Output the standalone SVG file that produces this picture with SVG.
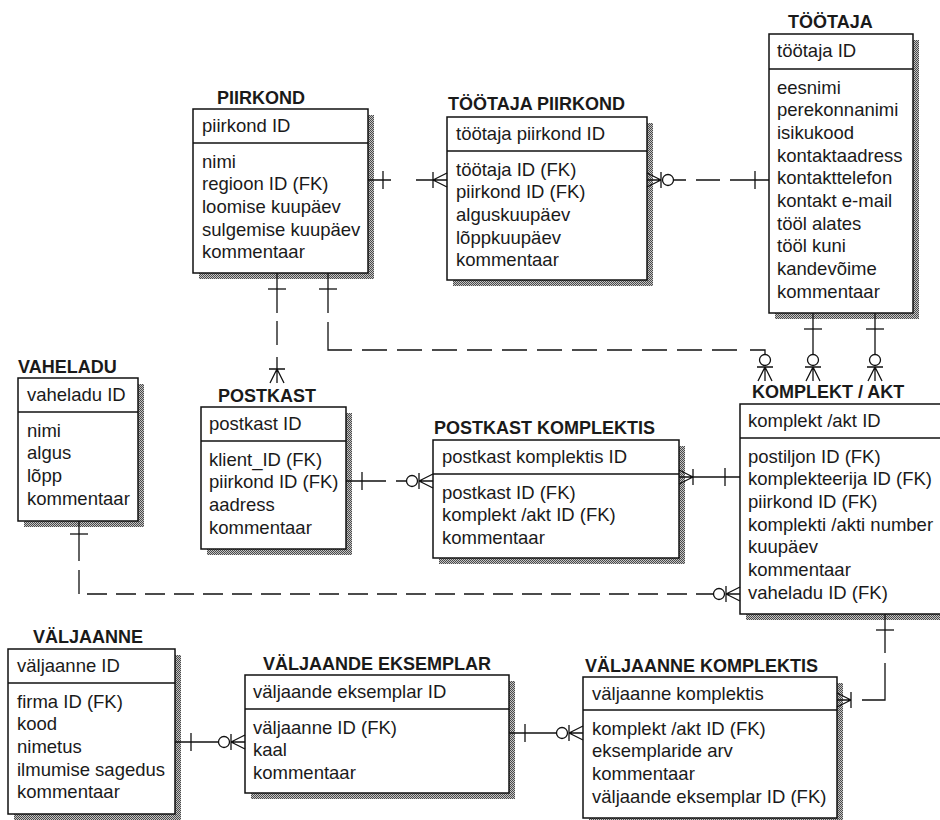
<svg xmlns="http://www.w3.org/2000/svg" width="940" height="820" viewBox="0 0 940 820">
  <style>
    .title { font-family: "Liberation Sans", Arial, sans-serif; font-size: 18px; font-weight: bold; fill: #1a1a1a; }
    .attr { font-family: "Liberation Sans", Arial, sans-serif; font-size: 18.5px; fill: #1a1a1a; }
    .box { fill: #ffffff; stroke: #111; stroke-width: 1.5; }
    .shadow { fill: url(#dots); stroke: none; }
    .sep { stroke: #111; stroke-width: 1.5; }
    .rel { fill: none; stroke: #111; stroke-width: 1.3; }
    .dash { stroke-dasharray: 25 10; }
    .dash2 { stroke-dasharray: 20 9; }
  </style>
  <defs>
    <pattern id="dots" width="2" height="2" patternUnits="userSpaceOnUse">
      <rect width="2" height="2" fill="#c4c4c4"/>
      <rect width="1" height="1" fill="#4a4a4a"/>
      <rect x="1" y="1" width="1" height="1" fill="#4a4a4a"/>
    </pattern>
    <!-- single bar: "exactly one" -->
    <path id="one" class="rel" d="M0,-9 V9"/>
    <!-- bar + crow's foot, tips toward +x -->
    <g id="many" class="rel">
      <path d="M0,-8 V8 M0,0 L14,-7 M0,0 L14,0 M0,0 L14,7"/>
    </g>
    <!-- circle + bar + crow's foot, tips toward +x -->
    <g id="zmany" class="rel">
      <path d="M0,-8 V8 M0,0 L14,-7 M0,0 L14,0 M0,0 L14,7"/>
      <circle cx="-7" cy="0" r="5.5" fill="#fff"/>
    </g>
  </defs>

  <rect width="940" height="820" fill="#ffffff"/>

  <!-- entities -->
  <g id="piirkond">
    <text class="title" x="217" y="104">PIIRKOND</text>
    <rect class="shadow" x="199" y="115" width="175" height="164"/>
    <rect class="box" x="193" y="109" width="175" height="164"/>
    <line class="sep" x1="193" y1="143" x2="368" y2="143"/>
    <text class="attr" x="202" y="132">piirkond ID</text>
    <text class="attr" x="202" y="167.5">nimi</text>
    <text class="attr" x="202" y="190.2">regioon ID (FK)</text>
    <text class="attr" x="202" y="212.9">loomise kuupäev</text>
    <text class="attr" x="202" y="235.6">sulgemise kuupäev</text>
    <text class="attr" x="202" y="258.3">kommentaar</text>
  </g>

  <g id="tootaja-piirkond">
    <text class="title" x="448" y="110">TÖÖTAJA PIIRKOND</text>
    <rect class="shadow" x="453" y="123" width="200" height="163"/>
    <rect class="box" x="447" y="117" width="200" height="163"/>
    <line class="sep" x1="447" y1="151" x2="647" y2="151"/>
    <text class="attr" x="456" y="140">töötaja piirkond ID</text>
    <text class="attr" x="456" y="175.5">töötaja ID (FK)</text>
    <text class="attr" x="456" y="198.2">piirkond ID (FK)</text>
    <text class="attr" x="456" y="220.9">alguskuupäev</text>
    <text class="attr" x="456" y="243.6">lõppkuupäev</text>
    <text class="attr" x="456" y="266.3">kommentaar</text>
  </g>

  <g id="tootaja">
    <text class="title" x="788" y="28">TÖÖTAJA</text>
    <rect class="shadow" x="775" y="40" width="144" height="279"/>
    <rect class="box" x="769" y="34" width="144" height="279"/>
    <line class="sep" x1="769" y1="69" x2="913" y2="69"/>
    <text class="attr" x="777" y="57">töötaja ID</text>
    <text class="attr" x="777" y="93.5">eesnimi</text>
    <text class="attr" x="777" y="116.2">perekonnanimi</text>
    <text class="attr" x="777" y="138.9">isikukood</text>
    <text class="attr" x="777" y="161.6">kontaktaadress</text>
    <text class="attr" x="777" y="184.3">kontakttelefon</text>
    <text class="attr" x="777" y="207">kontakt e-mail</text>
    <text class="attr" x="777" y="229.7">tööl alates</text>
    <text class="attr" x="777" y="252.4">tööl kuni</text>
    <text class="attr" x="777" y="275.1">kandevõime</text>
    <text class="attr" x="777" y="297.8">kommentaar</text>
  </g>

  <g id="vaheladu">
    <text class="title" x="18" y="373">VAHELADU</text>
    <rect class="shadow" x="24" y="384" width="120" height="143"/>
    <rect class="box" x="18" y="378" width="120" height="143"/>
    <line class="sep" x1="18" y1="412" x2="138" y2="412"/>
    <text class="attr" x="27" y="401">vaheladu ID</text>
    <text class="attr" x="27" y="436.5">nimi</text>
    <text class="attr" x="27" y="459.2">algus</text>
    <text class="attr" x="27" y="481.9">lõpp</text>
    <text class="attr" x="27" y="504.6">kommentaar</text>
  </g>

  <g id="postkast">
    <text class="title" x="218" y="402">POSTKAST</text>
    <rect class="shadow" x="207" y="413" width="145" height="142"/>
    <rect class="box" x="201" y="407" width="145" height="142"/>
    <line class="sep" x1="201" y1="441" x2="346" y2="441"/>
    <text class="attr" x="209" y="430">postkast ID</text>
    <text class="attr" x="209" y="465.5">klient_ID (FK)</text>
    <text class="attr" x="209" y="488.2">piirkond ID (FK)</text>
    <text class="attr" x="209" y="510.9">aadress</text>
    <text class="attr" x="209" y="533.6">kommentaar</text>
  </g>

  <g id="postkast-komplektis">
    <text class="title" x="434" y="434">POSTKAST KOMPLEKTIS</text>
    <rect class="shadow" x="439" y="446" width="246" height="118"/>
    <rect class="box" x="433" y="440" width="246" height="118"/>
    <line class="sep" x1="433" y1="474" x2="679" y2="474"/>
    <text class="attr" x="442" y="463">postkast komplektis ID</text>
    <text class="attr" x="442" y="498.5">postkast ID (FK)</text>
    <text class="attr" x="442" y="521.2">komplekt /akt ID (FK)</text>
    <text class="attr" x="442" y="543.9">kommentaar</text>
  </g>

  <g id="komplekt-akt">
    <text class="title" x="752" y="398">KOMPLEKT / AKT</text>
    <rect class="shadow" x="746" y="410" width="210" height="210"/>
    <rect class="box" x="740" y="404" width="210" height="210"/>
    <line class="sep" x1="740" y1="438" x2="950" y2="438"/>
    <text class="attr" x="748" y="427">komplekt /akt ID</text>
    <text class="attr" x="748" y="462.5">postiljon ID (FK)</text>
    <text class="attr" x="748" y="485.2">komplekteerija ID (FK)</text>
    <text class="attr" x="748" y="507.9">piirkond ID (FK)</text>
    <text class="attr" x="748" y="530.6">komplekti /akti number</text>
    <text class="attr" x="748" y="553.3">kuupäev</text>
    <text class="attr" x="748" y="576">kommentaar</text>
    <text class="attr" x="748" y="598.7">vaheladu ID (FK)</text>
  </g>

  <g id="valjaanne">
    <text class="title" x="33" y="643">VÄLJAANNE</text>
    <rect class="shadow" x="14" y="655" width="167" height="165"/>
    <rect class="box" x="8" y="649" width="167" height="165"/>
    <line class="sep" x1="8" y1="683" x2="175" y2="683"/>
    <text class="attr" x="17" y="672">väljaanne ID</text>
    <text class="attr" x="17" y="707.5">firma ID (FK)</text>
    <text class="attr" x="17" y="730.2">kood</text>
    <text class="attr" x="17" y="752.9">nimetus</text>
    <text class="attr" x="17" y="775.6">ilmumise sagedus</text>
    <text class="attr" x="17" y="798.3">kommentaar</text>
  </g>

  <g id="valjaande-eksemplar">
    <text class="title" x="263" y="670">VÄLJAANDE EKSEMPLAR</text>
    <rect class="shadow" x="251" y="681" width="264" height="118"/>
    <rect class="box" x="245" y="675" width="264" height="118"/>
    <line class="sep" x1="245" y1="709" x2="509" y2="709"/>
    <text class="attr" x="253" y="698">väljaande eksemplar ID</text>
    <text class="attr" x="253" y="733.5">väljaanne ID (FK)</text>
    <text class="attr" x="253" y="756.2">kaal</text>
    <text class="attr" x="253" y="778.9">kommentaar</text>
  </g>

  <g id="valjaanne-komplektis">
    <text class="title" x="585" y="672">VÄLJAANNE KOMPLEKTIS</text>
    <rect class="shadow" x="589" y="683" width="254" height="141"/>
    <rect class="box" x="583" y="677" width="254" height="141"/>
    <line class="sep" x1="583" y1="710" x2="837" y2="710"/>
    <text class="attr" x="592" y="700">väljaanne komplektis</text>
    <text class="attr" x="592" y="734.5">komplekt /akt ID (FK)</text>
    <text class="attr" x="592" y="757.2">eksemplaride arv</text>
    <text class="attr" x="592" y="779.9">kommentaar</text>
    <text class="attr" x="592" y="802.6">väljaande eksemplar ID (FK)</text>
  </g>

  <!-- relationships -->
  <g id="connectors">
    <!-- PIIRKOND - TÖÖTAJA PIIRKOND -->
    <path class="rel" d="M368,180 H391 M416,180 H433"/>
    <use href="#one" transform="translate(383,180)"/>
    <use href="#many" transform="translate(433,180)"/>

    <!-- TÖÖTAJA PIIRKOND - TÖÖTAJA -->
    <use href="#zmany" transform="translate(661,180) scale(-1,1)"/>
    <path class="rel" d="M673.5,180 H686 M696,180 H720 M730,180 H769"/>
    <use href="#one" transform="translate(755,180)"/>

    <!-- PIIRKOND - POSTKAST -->
    <path class="rel" d="M277,273 V313 M277,321 V345 M277,357 V369"/>
    <use href="#one" transform="translate(277,289) rotate(90)"/>
    <use href="#many" transform="translate(277,369) rotate(90)"/>

    <!-- PIIRKOND - KOMPLEKT / AKT -->
    <path class="rel" d="M328,273 V313 M328,322 V350 H352"/>
    <path class="rel dash" d="M362,350 H745"/>
    <path class="rel" d="M750,350 H765 V354.5"/>
    <use href="#one" transform="translate(328,289) rotate(90)"/>
    <use href="#zmany" transform="translate(765,367) rotate(90)"/>

    <!-- TÖÖTAJA - KOMPLEKT / AKT (two roles) -->
    <path class="rel" d="M813,313 V354.5 M875,313 V354.5"/>
    <use href="#one" transform="translate(813,329) rotate(90)"/>
    <use href="#one" transform="translate(875,329) rotate(90)"/>
    <use href="#zmany" transform="translate(813,367) rotate(90)"/>
    <use href="#zmany" transform="translate(875,367) rotate(90)"/>

    <!-- POSTKAST - POSTKAST KOMPLEKTIS -->
    <path class="rel" d="M346,481 H386 M396,481 H406.5"/>
    <use href="#one" transform="translate(362,481)"/>
    <use href="#zmany" transform="translate(419,481)"/>

    <!-- POSTKAST KOMPLEKTIS - KOMPLEKT / AKT -->
    <use href="#many" transform="translate(693,477) scale(-1,1)"/>
    <path class="rel" d="M693,477 H740"/>
    <use href="#one" transform="translate(725,477)"/>

    <!-- VAHELADU - KOMPLEKT / AKT -->
    <path class="rel" d="M79,521 V561 M79,570 V594"/>
    <path class="rel dash2" d="M87,594 H713.5"/>
    <use href="#one" transform="translate(79,534) rotate(90)"/>
    <use href="#zmany" transform="translate(726,594)"/>

    <!-- KOMPLEKT / AKT - VÄLJAANNE KOMPLEKTIS -->
    <path class="rel" d="M885,614 V653 M885,663 V700 H862"/>
    <use href="#one" transform="translate(885,630) rotate(90)"/>
    <use href="#many" transform="translate(851,700) scale(-1,1)"/>

    <!-- VÄLJAANNE - VÄLJAANDE EKSEMPLAR -->
    <path class="rel" d="M175,742 H218.5"/>
    <use href="#one" transform="translate(191,742)"/>
    <use href="#zmany" transform="translate(231,742)"/>

    <!-- VÄLJAANDE EKSEMPLAR - VÄLJAANNE KOMPLEKTIS -->
    <path class="rel" d="M509,733 H556.5"/>
    <use href="#one" transform="translate(525,733)"/>
    <use href="#zmany" transform="translate(569,733)"/>
  </g>
</svg>
